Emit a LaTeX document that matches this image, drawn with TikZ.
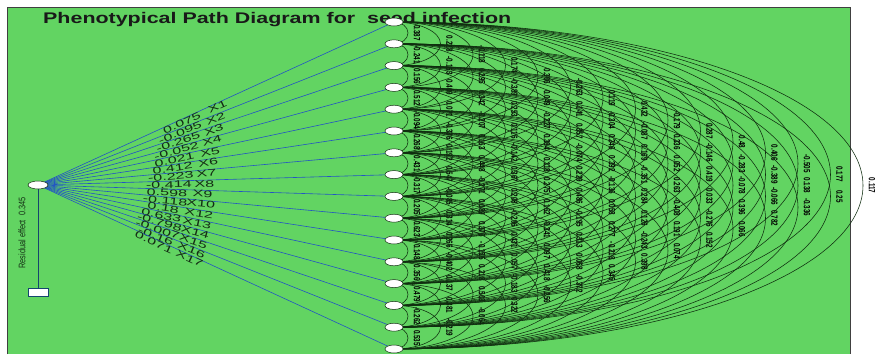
\documentclass[tikz,border=0pt]{standalone}
\usepackage{fontspec}
\setmainfont{Liberation Sans}
\usetikzlibrary{shapes.geometric}
\definecolor{bgreen}{RGB}{98,212,98}
\definecolor{fanblue}{RGB}{35,85,195}
\definecolor{arcdark}{RGB}{15,45,15}
\definecolor{txtdark}{RGB}{20,45,20}
\definecolor{resline}{RGB}{20,70,110}
\pgfdeclarelayer{bg}
\pgfdeclarelayer{mid}
\pgfsetlayers{bg,mid,main}
\tikzset{
  vnode/.style={ellipse, draw=arcdark, fill=white, minimum width=18pt, minimum height=8pt, inner sep=0pt, line width=0.5pt},
  fanline/.style={draw=fanblue, line width=0.6pt},
  arcline/.style={draw=arcdark, line width=0.55pt},
  coeflab/.style={font=\fontsize{9.5}{10}\selectfont, text=txtdark, sloped, below, inner sep=0pt},
  arclab/.style={font=\fontsize{9}{9}\selectfont\bfseries, text=black, rotate=-90, inner sep=0pt},
}
\newcommand{\widetxt}[1]{\scalebox{1.7}[1]{#1}}
\newcommand{\narrowtxt}[1]{\scalebox{0.7}[1]{#1}}
\begin{document}
\begin{tikzpicture}[x=1pt,y=-1pt]
\useasboundingbox (0,0) rectangle (875,354);
\begin{pgfonlayer}{bg}
\fill[white] (0,0) rectangle (875,354);
\fill[bgreen] (7,7) rectangle (850,354);
\draw[line width=1pt, black!75] (7,354) -- (7,7) -- (850,7) -- (850,354);
\node[anchor=base west, inner sep=0pt, font=\fontsize{15.4}{16}\selectfont\bfseries, text=black!90] (title) at (43,23) {\resizebox{468pt}{\height}{Phenotypical Path Diagram for\ \ seed infection}};
\end{pgfonlayer}

% nodes
\node[vnode, minimum width=20pt] (f) at (38,185) {};
\foreach \i in {1,...,16} {
  \node[vnode] (n\i) at (394,{22+21.8*(\i-1)}) {};
}
\node[draw=resline, fill=white, minimum width=20pt, minimum height=8pt, inner sep=0pt, line width=0.7pt] (r) at (38,292) {};
\node[rotate=90, inner sep=0pt, font=\fontsize{9.5}{9.5}\selectfont, text=txtdark] (restxt) at (22,233) {\resizebox{71pt}{\height}{Residual effect\ \ 0.345}};

\begin{pgfonlayer}{mid}
\draw[resline, line width=1pt] (f) -- (r);
\foreach \i/\xn/\c in {1/X1/0.075, 2/X2/-0.095, 3/X3/-0.265, 4/X4/-0.052, 5/X5/0.021, 6/X6/0.412, 7/X7/-0.223, 8/X8/-0.414, 9/X9/0.598, 10/X10/-0.118, 11/X12/0.18, 12/X13/0.633, 13/X14/-0.798, 14/X15/-0.007, 15/X16/-0.16, 16/X17/0.071} {
  \pgfmathsetmacro\pa{0.40-0.07*(\i-1)/15}
  \pgfmathsetmacro\pb{0.50-0.07*(\i-1)/15}
  \draw[fanline] (f.center) -- (n\i.center)
    node[coeflab, pos=\pa] {\widetxt{\c}}
    node[coeflab, pos=\pb] {\widetxt{\xn}};
}
\foreach \k/\vals in {
  1/{0.387,-0.241,0.156,0.512,-0.094,0.268,0.431,-0.317,0.205,0.623,-0.148,0.356,0.479,-0.262,0.535},
  2/{0.228,-0.163,0.409,0.071,-0.336,0.192,0.547,-0.085,0.314,0.266,-0.402,0.137,0.381,-0.219},
  3/{-0.118,0.295,0.342,-0.207,0.163,0.448,-0.271,0.089,0.376,-0.155,0.218,0.503,-0.064},
  4/{0.174,-0.389,0.253,0.116,-0.142,0.367,0.208,-0.296,0.431,0.057,-0.183,0.322},
  5/{0.306,0.049,-0.227,0.384,-0.118,0.275,0.162,-0.341,0.097,0.418,-0.256},
  6/{-0.263,0.141,0.357,-0.074,0.229,0.486,-0.195,0.313,0.068,-0.372},
  7/{0.119,-0.304,0.246,0.392,-0.136,0.058,0.277,-0.218,0.345},
  8/{0.432,-0.087,0.169,-0.351,0.284,0.126,-0.243,0.398},
  9/{-0.179,0.336,0.052,0.263,-0.408,0.191,0.074},
  10/{0.287,-0.146,0.419,0.033,-0.276,0.152},
  11/{0.48,-0.283,-0.078,0.396,0.066},
  12/{0.406,-0.389,-0.066,0.782},
  13/{-0.505,0.138,-0.336},
  14/{0.177,0.25},
  15/{0.117}} {
  \foreach \v [count=\i] in \vals {
    \pgfmathsetmacro\ax{32.5*\k-18.5}
    \pgfmathsetmacro\by{10.9*\k}
    \pgfmathsetmacro\lx{384.5+32.5*\k}
    \pgfmathsetmacro\ly{22+21.8*(\i-1)+10.9*\k}
    \draw[arcline] (n\i.center) arc[start angle=90, end angle=-90, x radius=\ax pt, y radius=\by pt];
    \node[arclab] (lab\k-\i) at (\lx,\ly) {\narrowtxt{\v}};
  }
}
\end{pgfonlayer}
\end{tikzpicture}
\end{document}
